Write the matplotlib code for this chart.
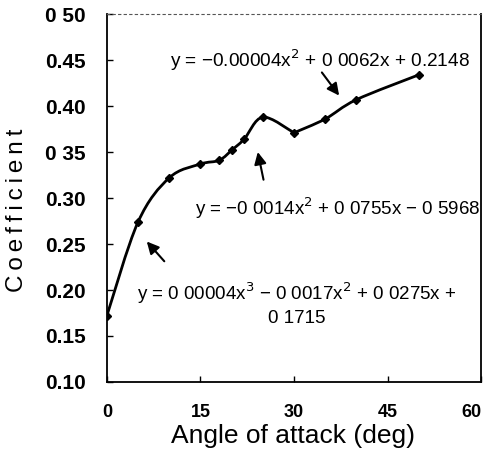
import matplotlib
matplotlib.use("Agg")
import matplotlib.pyplot as plt
from matplotlib.path import Path
from matplotlib.patches import PathPatch
import numpy as np

plt.rcParams['font.family'] = ['Liberation Sans', 'DejaVu Sans']

angle = [0, 5, 10, 15, 18, 20, 22, 25, 30, 35, 40, 50]
coef = [0.172, 0.274, 0.322, 0.337, 0.341, 0.352, 0.364, 0.388, 0.371, 0.386, 0.407, 0.434]
# trend-line segments (index ranges into the data)
segments = [(0, 5), (5, 8), (8, 11)]

x_ticks = [0, 15, 30, 45, 60]
x_tick_labels = ['0', '15', '30', '45', '60']
y_ticks = [0.10, 0.15, 0.20, 0.25, 0.30, 0.35, 0.40, 0.45, 0.50]
y_tick_labels = ['0.10', '0.15', '0.20', '0.25', '0.30', '0 35', '0.40', '0.45', '0 50']

eq_top = "y = \u22120.00004x$^2$ + 0 0062x + 0.2148"
eq_mid = "y = \u22120 0014x$^2$ + 0 0755x \u2212 0 5968"
eq_low = "y = 0 00004x$^3$ \u2212 0 0017x$^2$ + 0 0275x +\n0 1715"

fig = plt.figure(figsize=(4.88, 4.71), dpi=100)
ax = fig.add_axes([0.219, 0.189, 0.767, 0.781])
ax.set_xlim(0, 60)
ax.set_ylim(0.10, 0.50)


def smooth_path(px, py):
    pts = np.column_stack([px, py])
    verts = [tuple(pts[0])]
    codes = [Path.MOVETO]
    n = len(pts)
    for i in range(n - 1):
        p0 = pts[i - 1] if i > 0 else pts[i]
        p1 = pts[i]
        p2 = pts[i + 1]
        p3 = pts[i + 2] if i + 2 < n else pts[i + 1]
        c1 = p1 + (p2 - p0) / 6.0
        c2 = p2 - (p3 - p1) / 6.0
        verts += [tuple(c1), tuple(c2), tuple(p2)]
        codes += [Path.CURVE4] * 3
    return Path(verts, codes)


for a, b in segments:
    ax.add_patch(PathPatch(smooth_path(angle[a:b + 1], coef[a:b + 1]),
                           fill=False, lw=2.0, color='black', capstyle='round'))
ax.plot(angle, coef, linestyle='none', marker='D', ms=4, color='black')

ax.set_xticks(x_ticks)
ax.set_xticklabels(x_tick_labels, fontsize=13, fontweight='bold')
ax.get_xticklabels()[-1].set_ha('right')
ax.set_yticks(y_ticks)
ax.set_yticklabels(y_tick_labels, fontsize=15, fontweight='bold')
ax.tick_params(direction='in', length=4, width=1)
ax.tick_params(axis='y', pad=15)
ax.tick_params(axis='x', pad=16)

for s in ['left', 'bottom', 'right']:
    ax.spines[s].set_linewidth(1.3)
ax.spines['top'].set_linestyle((0, (2, 3)))
ax.spines['top'].set_linewidth(0.8)
ax.spines['top'].set_color('#555555')

ax.set_xlabel('Angle of attack (deg)', fontsize=19)
ax.xaxis.set_label_coords(0.497, -0.115)
ax.set_ylabel('C\u2009o\u2009e\u2009f\u2009f\u2009i\u2009c\u2009i\u2009e\u2009n\u2009t', fontsize=17.5)
ax.yaxis.set_label_coords(-0.211, 0.467)

aprops = dict(arrowstyle='-|>', color='black', lw=1.5, mutation_scale=18)
ax.annotate('', xy=(37.5, 0.409), xytext=(34.2, 0.439), arrowprops=aprops)
ax.annotate('', xy=(24.1, 0.353), xytext=(25.2, 0.317), arrowprops=aprops)
ax.annotate('', xy=(6.1, 0.255), xytext=(9.5, 0.229), arrowprops=aprops)

ax.text(34.2, 0.450, eq_top, fontsize=13.7, ha='center', va='center')
ax.text(37.0, 0.289, eq_mid, fontsize=13.5, ha='center', va='center')
ax.text(30.5, 0.185, eq_low, fontsize=13.5, ha='center', va='center', linespacing=1.25)

fig.savefig('out.png', dpi=100)
